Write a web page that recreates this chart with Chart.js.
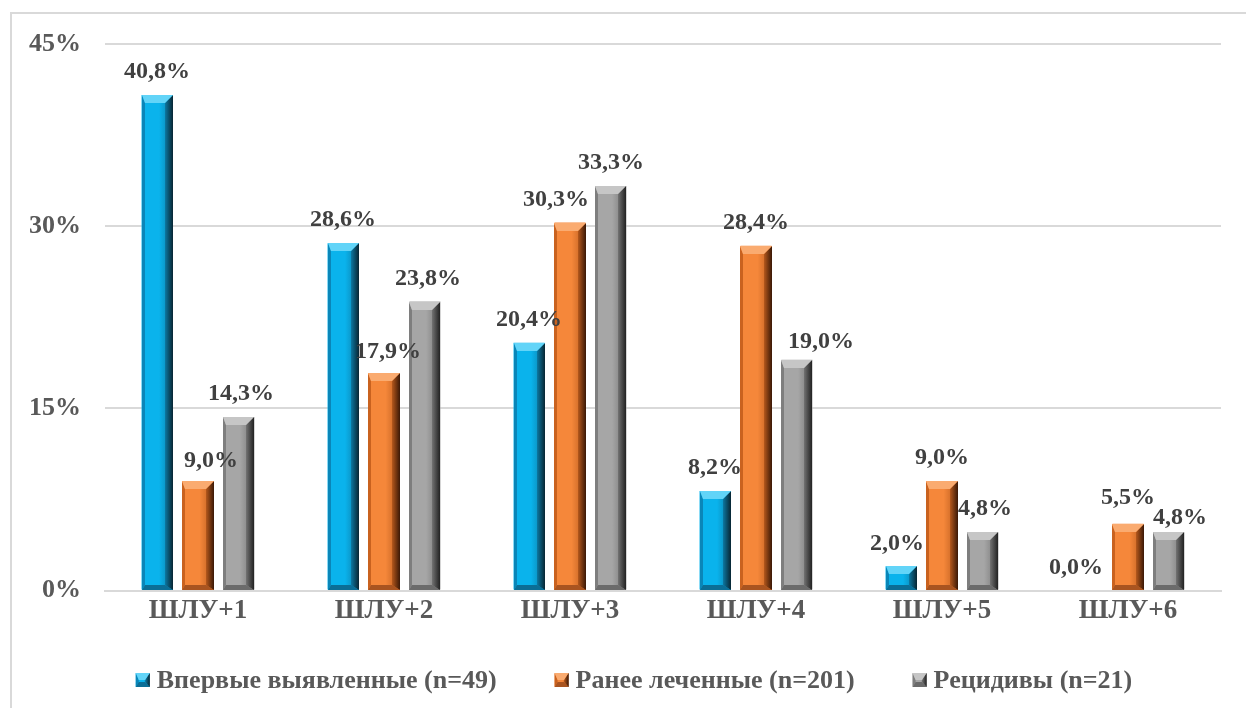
<!DOCTYPE html>
<html lang="ru">
<head>
<meta charset="utf-8">
<title>ШЛУ</title>
<script src="https://cdn.jsdelivr.net/npm/chart.js@4.4.0/dist/chart.umd.min.js"></script>
<style>
  html, body { margin: 0; padding: 0; background: #fff; overflow: hidden; }
  #wrap { position: relative; width: 1246px; height: 708px; }
  #frame { position: absolute; left: 10px; top: 12px; width: 1400px; height: 900px;
           border: 2px solid #d9d9d9; box-sizing: border-box; }
  #c { position: absolute; left: 0; top: 0; }
</style>
</head>
<body>
<div id="wrap">
  <div id="frame"></div>
  <canvas id="c" width="1246" height="708"></canvas>
</div>
<script>
// ---- data ----
const categories = ['ШЛУ+1', 'ШЛУ+2', 'ШЛУ+3', 'ШЛУ+4', 'ШЛУ+5', 'ШЛУ+6'];
const seriesNames = ['Впервые выявленные (n=49)', 'Ранее леченные (n=201)', 'Рецидивы (n=21)'];
const newlyDetected = [40.8, 28.6, 20.4, 8.2, 2.0, 0.0];
const previouslyTreated = [9.0, 17.9, 30.3, 28.4, 9.0, 5.5];
const relapses = [14.3, 23.8, 33.3, 19.0, 4.8, 4.8];
const yTicks = [0, 15, 30, 45];

// ---- styling ----
const FONT = '"Liberation Serif", "Times New Roman", serif';
const palette = [
  { face: '#0AB3EC', light: '#62D4F8', left: '#0A86B8', dark1: '#0C78A2', dark2: '#082532', bottom: '#0B6E96' },
  { face: '#F5873A', light: '#FAAB70', left: '#C9621F', dark1: '#B5581C', dark2: '#3A1806', bottom: '#A95420' },
  { face: '#A6A6A6', light: '#C6C6C6', left: '#7E7E7E', dark1: '#737373', dark2: '#222222', bottom: '#6B6B6B' }
];
// small nudges for value labels that would otherwise collide [dx, dy]
const labelNudge = [
  [[0, 0], [0, 0], [0, 0], [0, 0], [-4, 0], [-11, 0]],
  [[13, 3], [4, 2], [-14, 0], [0, 0], [0, 0], [0, -3]],
  [[2, 0], [3, 0], [0, 0], [24, 5], [2, 0], [11, 9]]
];

const fmt = v => v.toFixed(1).replace('.', ',') + '%';

function bevelRect(ctx, L, T, R, B, c) {
  const h = B - T, w = R - L;
  if (h <= 0) return;
  const bt = Math.min(8, h / 2), bb = Math.min(5, h / 2);
  const br = Math.min(8, w / 3), bl = Math.min(3, w / 4);
  // face with slight horizontal shading
  let g = ctx.createLinearGradient(L, 0, R, 0);
  g.addColorStop(0, c.face); g.addColorStop(0.55, c.face); g.addColorStop(1, c.dark1);
  ctx.fillStyle = g; ctx.fillRect(L, T, w, h);
  // left edge
  ctx.fillStyle = c.left;
  ctx.beginPath(); ctx.moveTo(L, T); ctx.lineTo(L + bl, T + bt); ctx.lineTo(L + bl, B - bb); ctx.lineTo(L, B); ctx.closePath(); ctx.fill();
  // right edge
  g = ctx.createLinearGradient(R - br, 0, R, 0);
  g.addColorStop(0, c.dark1); g.addColorStop(1, c.dark2);
  ctx.fillStyle = g;
  ctx.beginPath(); ctx.moveTo(R, T); ctx.lineTo(R, B); ctx.lineTo(R - br, B - bb); ctx.lineTo(R - br, T + bt); ctx.closePath(); ctx.fill();
  // bottom edge
  ctx.fillStyle = c.bottom;
  ctx.beginPath(); ctx.moveTo(L, B); ctx.lineTo(R, B); ctx.lineTo(R - br, B - bb); ctx.lineTo(L + bl, B - bb); ctx.closePath(); ctx.fill();
  // top edge
  ctx.fillStyle = c.light;
  ctx.beginPath(); ctx.moveTo(L, T); ctx.lineTo(R, T); ctx.lineTo(R - br, T + bt); ctx.lineTo(L + bl, T + bt); ctx.closePath(); ctx.fill();
}

const bevelBars = {
  id: 'bevelBars',
  afterDatasetsDraw(chart) {
    const ctx = chart.ctx;
    ctx.save();
    chart.data.datasets.forEach((ds, i) => {
      chart.getDatasetMeta(i).data.forEach(el => {
        const p = el.getProps(['x', 'y', 'base', 'width'], true);
        const L = Math.round(p.x - p.width / 2), R = Math.round(p.x + p.width / 2);
        bevelRect(ctx, L, Math.round(p.y), R, Math.round(p.base), palette[i]);
      });
    });
    ctx.restore();
  }
};

const valueLabels = {
  id: 'valueLabels',
  afterDatasetsDraw(chart) {
    const ctx = chart.ctx;
    ctx.save();
    ctx.font = 'bold 24px ' + FONT;
    ctx.fillStyle = '#404040';
    ctx.textAlign = 'center';
    ctx.textBaseline = 'middle';
    chart.data.datasets.forEach((ds, i) => {
      chart.getDatasetMeta(i).data.forEach((el, j) => {
        const p = el.getProps(['x', 'y'], true);
        const n = labelNudge[i][j];
        ctx.fillText(fmt(ds.data[j]), p.x + n[0], p.y - 23 + n[1]);
      });
    });
    ctx.restore();
  }
};

const bevelLegend = {
  id: 'bevelLegend',
  afterDraw(chart) {
    const ctx = chart.ctx;
    ctx.save();
    ctx.font = 'bold 26px ' + FONT;
    ctx.textBaseline = 'middle';
    ctx.textAlign = 'left';
    const box = 14, gapText = 7, gapItem = 58;
    const widths = chart.data.datasets.map(d => ctx.measureText(d.label).width);
    const total = widths.reduce((a, w) => a + box + gapText + w, 0) + gapItem * (widths.length - 1);
    let x = 634 - total / 2;
    const y = 680;
    chart.data.datasets.forEach((d, i) => {
      bevelRect(ctx, x, y - box / 2, x + box, y + box / 2, palette[i]);
      ctx.fillStyle = '#595959';
      ctx.fillText(d.label, x + box + gapText, y + 1);
      x += box + gapText + widths[i] + gapItem;
    });
    ctx.restore();
  }
};

new Chart(document.getElementById('c'), {
  type: 'bar',
  data: {
    labels: categories,
    datasets: [
      { label: seriesNames[0], data: newlyDetected, backgroundColor: palette[0].face },
      { label: seriesNames[1], data: previouslyTreated, backgroundColor: palette[1].face },
      { label: seriesNames[2], data: relapses, backgroundColor: palette[2].face }
    ]
  },
  options: {
    responsive: false,
    animation: false,
    layout: { padding: { left: 5, right: 25, top: 44, bottom: 77 } },
    datasets: { bar: { categoryPercentage: 0.66, barPercentage: 0.76, borderWidth: 0 } },
    plugins: { legend: { display: false }, tooltip: { enabled: false } },
    scales: {
      x: {
        grid: { display: false, drawTicks: false, tickLength: 0 },
        border: { display: true, color: '#d9d9d9', width: 2 },
        ticks: { color: '#595959', font: { family: FONT, size: 27, weight: 'bold' }, padding: 4 }
      },
      y: {
        min: 0, max: 45,
        afterBuildTicks(axis) { axis.ticks = yTicks.map(v => ({ value: v })); },
        grid: { color: '#d9d9d9', lineWidth: 2, drawTicks: false },
        border: { display: false },
        ticks: { color: '#595959', font: { family: FONT, size: 26, weight: 'bold' }, padding: 24,
                 callback: v => v + '%' }
      }
    }
  },
  plugins: [bevelBars, valueLabels, bevelLegend]
});
</script>
</body>
</html>
